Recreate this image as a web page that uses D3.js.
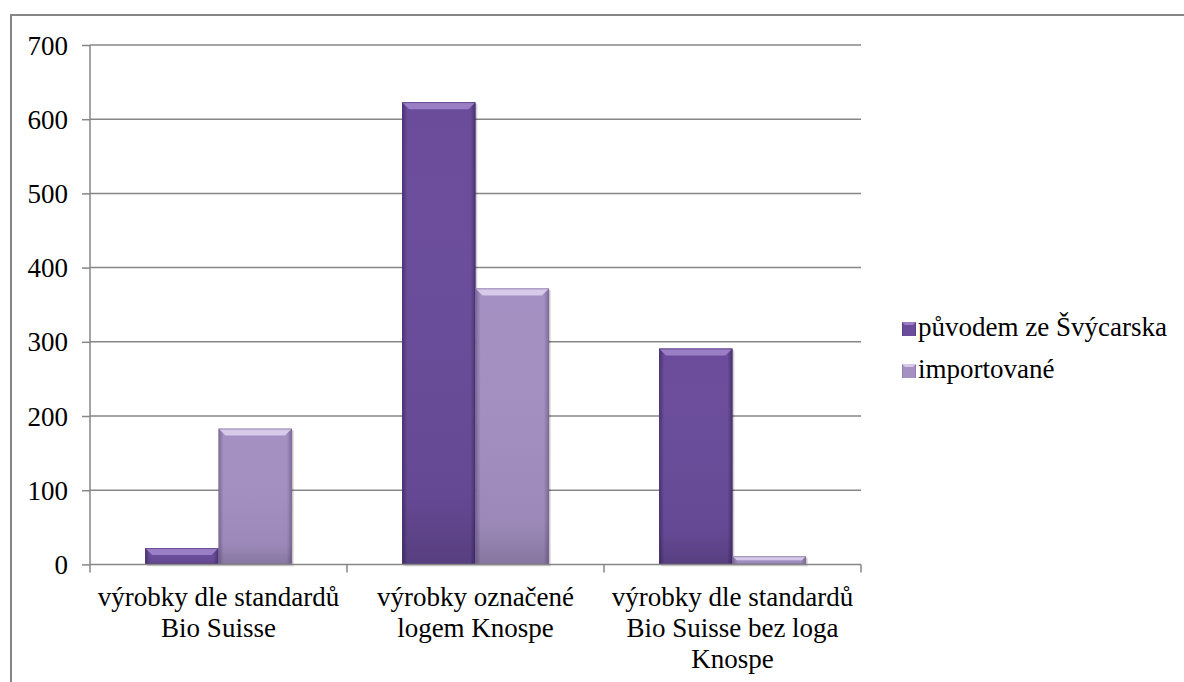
<!DOCTYPE html>
<html><head><meta charset="utf-8">
<script src="https://cdn.jsdelivr.net/npm/d3@7/dist/d3.min.js"></script>
</head><body style="margin:0">
<div id="wrap" style="position:relative;width:1184px;height:682px;overflow:hidden">
<svg id="c" width="1184" height="682" style="position:absolute;left:0;top:0"></svg>
</div>
<script>
const categories = [["výrobky dle standardů","Bio Suisse"],["výrobky označené","logem Knospe"],["výrobky dle standardů","Bio Suisse bez loga","Knospe"]];
const seriesNames = ["původem ze Švýcarska","importované"];
const swiss = [22, 623, 291];
const imported = [183, 372, 11];
const yTicks = [0,100,200,300,400,500,600,700];

const FONT = "Liberation Serif";
const FS = 27;
const svg = d3.select("#c");
const wrap = d3.select("#wrap");
const m={l:90,r:861,t:45,b:564.4};

const y=d3.scaleLinear().domain([0,700]).range([m.b,m.t]);
const x0=d3.scaleBand().domain(d3.range(categories.length)).range([m.l,m.r]).paddingInner(0).paddingOuter(0);
const x1=d3.scaleBand().domain([0,1]).range([0,x0.bandwidth()]).paddingOuter(0.75).paddingInner(0);

const defs = svg.append("defs");
const colors=[{base:"#6a4c9b",light:"#9a7fc6",dark:"#4a3172"},{base:"#a490c2",light:"#d6c9ea",dark:"#7d6a9a"}];
colors.forEach((c,i)=>{
  const g=defs.append("linearGradient").attr("id","g"+i).attr("x1",0).attr("x2",1).attr("y1",0).attr("y2",0);
  g.append("stop").attr("offset","0").attr("stop-color",c.dark);
  g.append("stop").attr("offset","0.07").attr("stop-color",c.base);
  g.append("stop").attr("offset","0.93").attr("stop-color",c.base);
  g.append("stop").attr("offset","1").attr("stop-color",c.dark);
  const v=defs.append("linearGradient").attr("id","v"+i).attr("x1",0).attr("x2",0).attr("y1",0).attr("y2",1);
  v.append("stop").attr("offset","0").attr("stop-color","#fff").attr("stop-opacity",0);
  v.append("stop").attr("offset","0.85").attr("stop-color","#000").attr("stop-opacity",0.05);
  v.append("stop").attr("offset","1").attr("stop-color","#000").attr("stop-opacity",0.18);
});

svg.append("rect").attr("x",11).attr("y",15).attr("width",1200).attr("height",700).attr("fill","none").attr("stroke","#868686").attr("stroke-width",2);

svg.append("g").selectAll("line").data(yTicks.filter(d=>d>0)).join("line")
  .attr("x1",m.l).attr("x2",m.r).attr("y1",d=>y(d)).attr("y2",d=>y(d))
  .attr("stroke","#868686").attr("stroke-width",1.5);

const ya=svg.append("g").attr("transform",`translate(${m.l},0)`).call(d3.axisLeft(y).tickValues(yTicks).tickSize(8).tickPadding(14));
ya.attr("font-family",FONT).attr("font-size",FS);
ya.select(".domain").attr("stroke","#868686").attr("stroke-width",1.5).attr("d",`M0,${m.b}V${m.t}`);
ya.selectAll(".tick line").attr("stroke","#868686").attr("stroke-width",1.5);
ya.selectAll(".tick text").style("font-family",FONT).attr("fill","#000").attr("dy","0.34em");

const data=[swiss,imported];
data.forEach((vals,si)=>{
  const g=svg.append("g");
  vals.forEach((v,ci)=>{
    const bx=x0(ci)+x1(si), bw=x1.bandwidth(), by=y(v), bh=y(0)-y(v);
    g.append("rect").attr("x",bx+2).attr("y",by+2).attr("width",bw).attr("height",bh).attr("fill","#000").attr("opacity",0.12);
    g.append("rect").attr("x",bx+1).attr("y",by+1).attr("width",bw).attr("height",bh).attr("fill","#000").attr("opacity",0.12);
    g.append("rect").attr("x",bx).attr("y",by).attr("width",bw).attr("height",bh).attr("fill",`url(#g${si})`);
    g.append("rect").attr("x",bx).attr("y",by).attr("width",bw).attr("height",bh).attr("fill",`url(#v${si})`);
    const bv=Math.min(7,bh/2);
    g.append("path").attr("d",`M${bx},${by}H${bx+bw}L${bx+bw-bv},${by+bv}H${bx+bv}Z`).attr("fill",colors[si].light);
    g.append("rect").attr("x",bx+0.5).attr("y",by+0.5).attr("width",bw-1).attr("height",bh-1).attr("fill","none").attr("stroke",colors[si].dark).attr("stroke-opacity",0.6).attr("stroke-width",1);
  });
});

svg.append("line").attr("x1",m.l).attr("x2",m.r).attr("y1",m.b).attr("y2",m.b).attr("stroke","#868686").attr("stroke-width",1.5);
const bounds=d3.range(categories.length+1).map(i=>i<categories.length?x0(i):m.r);
svg.append("g").selectAll("line").data(bounds).join("line").attr("x1",d=>d).attr("x2",d=>d).attr("y1",m.b).attr("y2",m.b+8).attr("stroke","#868686").attr("stroke-width",1.5);

// category labels as HTML text
categories.forEach((lines,ci)=>{
  const cx=x0(ci)+x0.bandwidth()/2;
  const d=wrap.append("div")
    .style("position","absolute").style("left",(cx-150)+"px").style("top","582px").style("width","300px")
    .style("text-align","center").style("font-family",FONT).style("font-size",FS+"px").style("line-height","31px").style("color","#000");
  lines.forEach(l=>d.append("div").style("white-space","nowrap").text(l));
});

// legend
seriesNames.forEach((n,i)=>{
  const ly=322+i*42;
  svg.append("rect").attr("x",902).attr("y",ly).attr("width",14).attr("height",14).attr("fill",`url(#g${i})`);
  svg.append("path").attr("d",`M902,${ly}h14l-3,3h-8z`).attr("fill",colors[i].light);
  wrap.append("div").style("position","absolute").style("left","918px").style("top",(ly+15-24.6)+"px")
    .style("font-family",FONT).style("font-size",FS+"px").style("line-height","31px").style("white-space","nowrap").style("color","#000").text(n);
});
</script></body></html>
